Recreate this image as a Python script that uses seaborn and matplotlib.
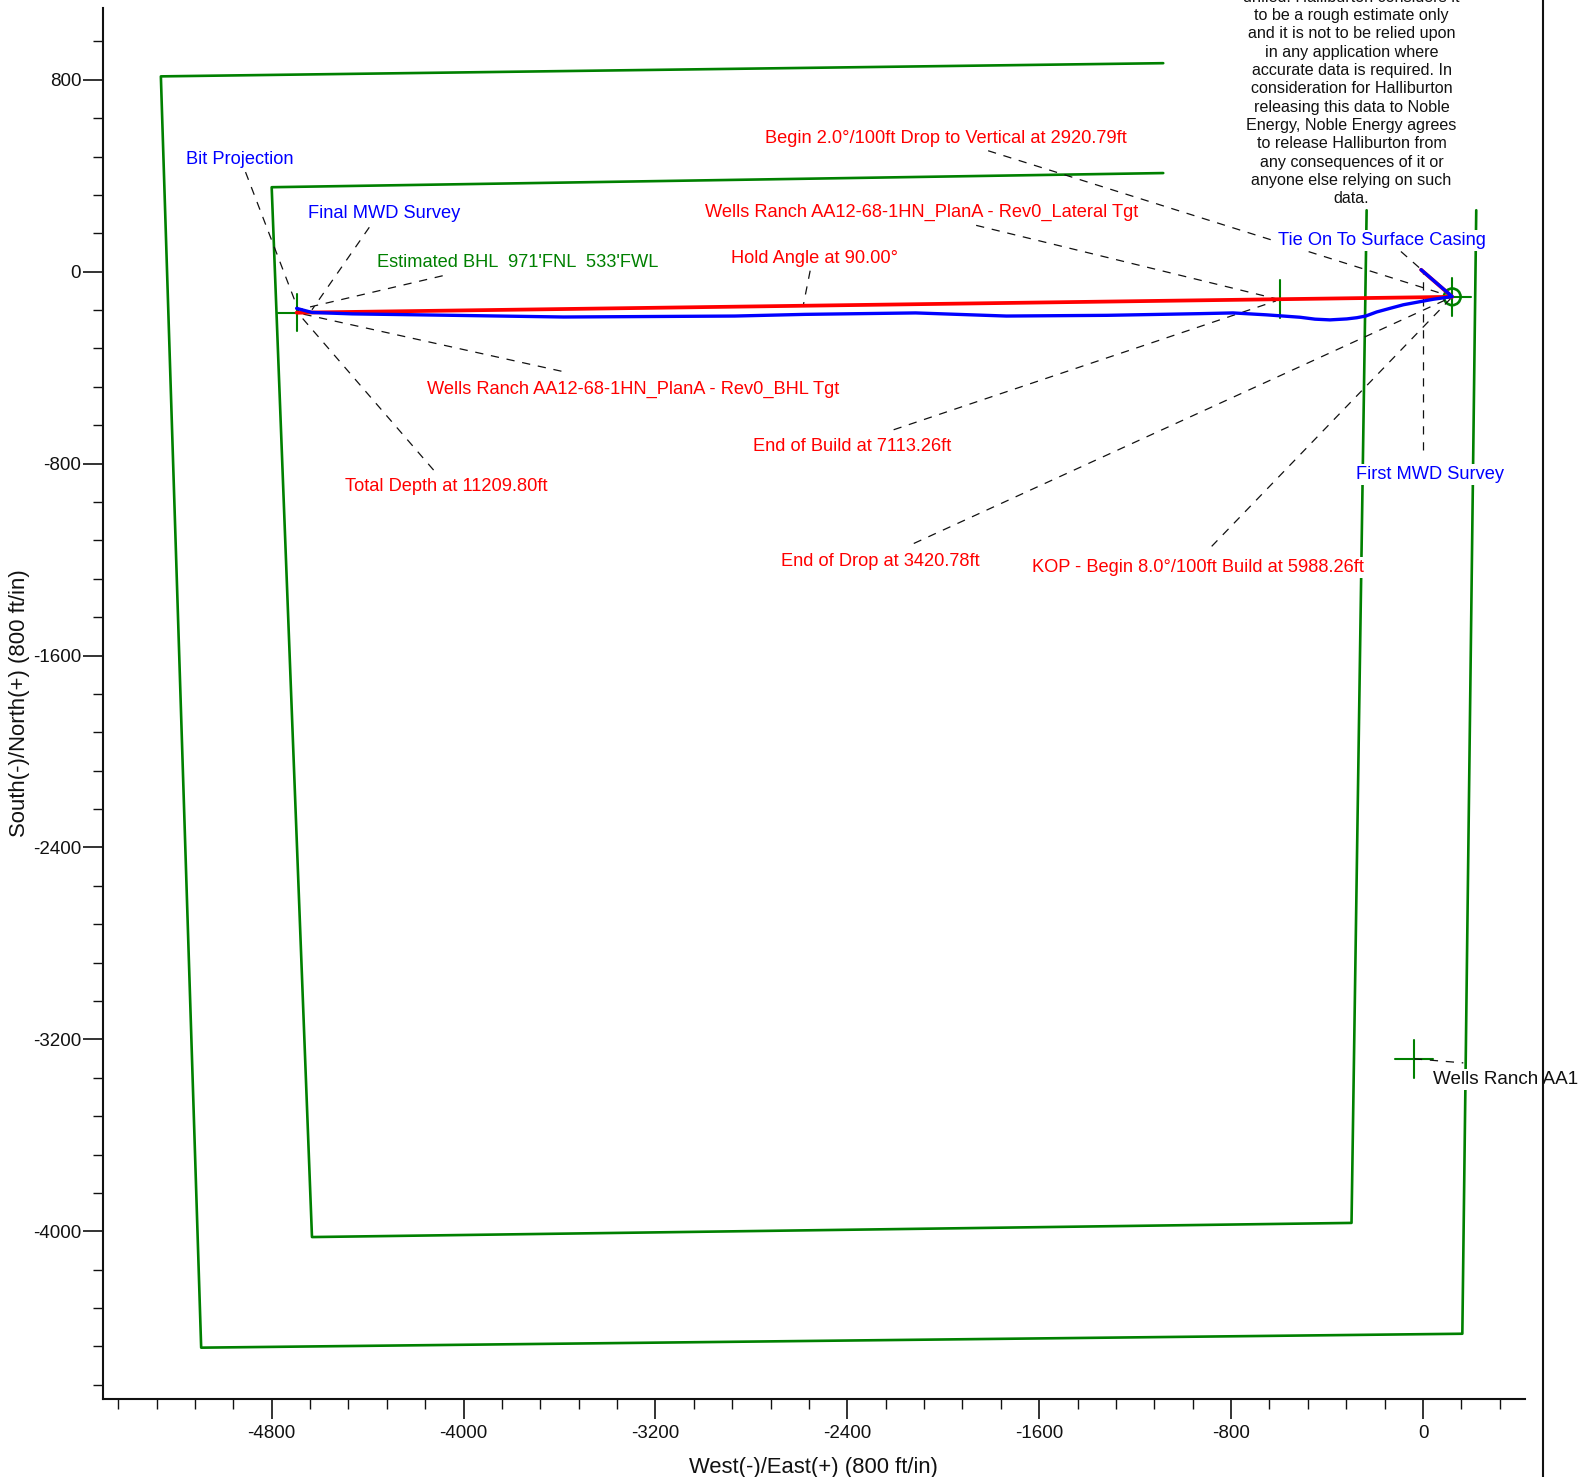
import matplotlib
matplotlib.use("Agg")
import matplotlib.pyplot as plt
from matplotlib.lines import Line2D
from matplotlib.ticker import MultipleLocator
import seaborn as sns

sns.set_theme(style="ticks")
plt.rcParams["font.family"] = ["Liberation Sans", "DejaVu Sans"]
plt.rcParams["axes.unicode_minus"] = False

# hard-line boundaries
outer_x = [-1083, -5262, -5094, 164, 222]
outer_y = [869, 814, -4485, -4427, 256]
inner_x = [-1083, -4800, -4632, -298, -235]
inner_y = [411, 352, -4024, -3965, 256]

# plan (red) and actual (blue) well paths
plan_x = [-8, 122, -4696]
plan_y = [8, -105, -171]
actual_x = [-8, 122, 43, -12, -82, -138, -193, -239, -276, -318, -388, -450, -513, -652, -792, -930,
            -1317, -1737, -2115, -2576, -2870, -3583, -4045, -4464, -4632, -4696]
actual_y = [8, -104, -115, -125, -138, -153, -168, -185, -192, -197, -201, -198, -190, -180, -172, -175,
            -182, -185, -172, -178, -185, -189, -182, -176, -170, -153]

# targets
target_x = [-4696, -596, 122, -38]
target_y = [-171, -114, -105, -3281]
target_half = 78
tie_x = [122]
tie_y = [-105]

# labels: text, colour, x, y, leader start x, y, leader end x, y
label_text = ["Begin 2.0°/100ft Drop to Vertical at 2920.79ft",
              "Wells Ranch AA12-68-1HN_PlanA - Rev0_Lateral Tgt",
              "Hold Angle at 90.00°",
              "Estimated BHL  971'FNL  533'FWL",
              "Final MWD Survey",
              "Bit Projection",
              "Wells Ranch AA12-68-1HN_PlanA - Rev0_BHL Tgt",
              "Total Depth at 11209.80ft",
              "End of Build at 7113.26ft",
              "End of Drop at 3420.78ft",
              "KOP - Begin 8.0°/100ft Build at 5988.26ft",
              "First MWD Survey",
              "Tie On To Surface Casing",
              "Wells Ranch AA1"]
label_color = ["red", "red", "red", "green", "blue", "blue", "red", "red", "red", "red",
               "red", "blue", "blue", "#111111"]
label_x = [-2744, -2992, -2883, -4360, -4649, -5157, -4154, -4494, -2795, -2677, -1632, -281, -604, 42]
label_y = [555, 245, 56, 39, 241, 467, -490, -897, -729, -1207, -1232, -846, 131, -3366]
lead_x0 = [-1813, -1863, -2555, -4087, -4393, -4909, -3592, -4125, -2207, -2123, -881, 0, -92, -38]
lead_y0 = [504, 193, 4, -17, 185, 415, -415, -827, -659, -1133, -1145, -743, 84, -3281]
lead_x1 = [122, -596, -2585, -4691, -4632, -4687, -4691, -4691, -613, 122, 122, 0, 122, 168]
lead_y1 = [-105, -117, -147, -159, -159, -164, -172, -172, -122, -105, -105, 8, -105, -3298]

disclaimer = ("drilled. Halliburton considers it\nto be a rough estimate only\n"
              "and it is not to be relied upon\nin any application where\n"
              "accurate data is required. In\nconsideration for Halliburton\n"
              "releasing this data to Noble\nEnergy, Noble Energy agrees\n"
              "to release Halliburton from\nany consequences of it or\n"
              "anyone else relying on such\ndata.")
disclaimer_x, disclaimer_y = -298, 273

major_ticks_x = [-4800, -4000, -3200, -2400, -1600, -800, 0]
major_ticks_y = [800, 0, -800, -1600, -2400, -3200, -4000]

W, H = 1578, 1477
fig = plt.figure(figsize=(W / 100, H / 100), dpi=100)
L, R, T, B = 103.3, 1524.7, 8, 1399
ax = fig.add_axes([L / W, 1 - B / H, (R - L) / W, (B - T) / H])
ax.set_xlim(-5502, 424)
ax.set_ylim(-4699, 1099)

for xs, ys in [(outer_x, outer_y), (inner_x, inner_y)]:
    sns.lineplot(x=xs, y=ys, sort=False, estimator=None, color="green", lw=1.9, ax=ax, zorder=2)

for cx, cy in zip(target_x, target_y):
    sns.lineplot(x=[cx - target_half, cx + target_half], y=[cy, cy], sort=False, estimator=None,
                 color="green", lw=1.5, ax=ax, zorder=2)
    sns.lineplot(x=[cx, cx], y=[cy - target_half, cy + target_half], sort=False, estimator=None,
                 color="green", lw=1.5, ax=ax, zorder=2)
ax.scatter(tie_x, tie_y, s=144, facecolor="none", edgecolor="green", linewidth=1.9, zorder=2)

for x0, y0, x1, y1 in zip(lead_x0, lead_y0, lead_x1, lead_y1):
    ax.plot([x0, x1], [y0, y1], color="#111111", lw=0.9, dashes=(6.6, 6.2), zorder=2.5)

sns.lineplot(x=plan_x, y=plan_y, sort=False, estimator=None, color="red", lw=2.7, ax=ax, zorder=3)
sns.lineplot(x=actual_x, y=actual_y, sort=False, estimator=None, color="blue", lw=2.4, ax=ax, zorder=3.2)

box = dict(facecolor="white", edgecolor="none", pad=1.5)
for s, c, x, y in zip(label_text, label_color, label_x, label_y):
    size = 13.6 if s.endswith("AA1") else 13.15
    ax.text(x, y, s, color=c, fontsize=size, ha="left", va="center", bbox=box, zorder=4)
ax.text(disclaimer_x, disclaimer_y, disclaimer, color="#111111", fontsize=11.6, ha="center", va="bottom",
        linespacing=1.277, multialignment="center", bbox=box, zorder=4)

ax.set_xticks(major_ticks_x)
ax.set_yticks(major_ticks_y)
ax.xaxis.set_minor_locator(MultipleLocator(160))
ax.yaxis.set_minor_locator(MultipleLocator(160))
ax.tick_params(axis="both", which="major", length=14.4, width=1.2, labelsize=13.5, colors="#111111")
ax.tick_params(axis="both", which="minor", length=7.2, width=1.0, color="#111111")
ax.tick_params(axis="x", which="major", pad=4.5)
ax.tick_params(axis="y", which="major", pad=1.5)
sns.despine(ax=ax)
for side in ("left", "bottom"):
    ax.spines[side].set_linewidth(1.5)
    ax.spines[side].set_color("#111111")

fig.text(813 / W, 1 - 1467 / H, "West(-)/East(+) (800 ft/in)", fontsize=15.8, color="#111111", ha="center", va="center")
fig.text(20 / W, 1 - 703 / H, "South(-)/North(+) (800 ft/in)", fontsize=15.9, color="#111111", rotation=90, ha="center", va="center")

fig.add_artist(Line2D([1543 / W, 1543 / W], [0, 1], color="#111111", lw=1.5, transform=fig.transFigure))

fig.savefig("out.png", dpi=100)
